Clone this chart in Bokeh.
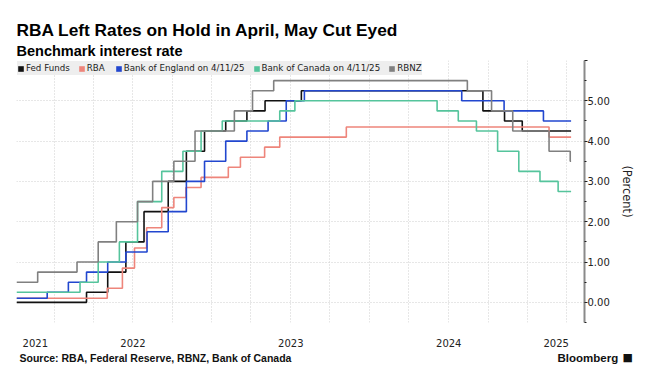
import pandas as pd
from bokeh.plotting import figure
from bokeh.layouts import column, row
from bokeh.models import (Range1d, FixedTicker, CustomJSTickFormatter, Legend,
                          LegendItem, Title, Label)
from bokeh.embed import file_html
from bokeh.resources import INLINE

# ---------------- data ----------------
title_text = "RBA Left Rates on Hold in April, May Cut Eyed"
subtitle_text = "Benchmark interest rate"
source_text = "Source: RBA, Federal Reserve, RBNZ, Bank of Canada"
brand_text = "Bloomberg"
y_label = "(Percent)"

x_start = "2021-10-06"
x_end = "2025-05-12"
last_date = "2025-04-11"

y_major_ticks = [0, 1, 2, 3, 4, 5, 6]
y_minor_ticks = [-0.5, 0.5, 1.5, 2.5, 3.5, 4.5, 5.5]

fed_dates = ["2021-10-06", "2022-03-17", "2022-05-05", "2022-06-16", "2022-07-28",
             "2022-09-22", "2022-11-03", "2022-12-15", "2023-02-02", "2023-03-23",
             "2023-05-04", "2023-07-27", "2024-09-19", "2024-11-08", "2024-12-19"]
fed_rates = [0.0, 0.25, 0.75, 1.5, 2.25, 3.0, 3.75, 4.25, 4.5, 4.75, 5.0, 5.25,
             4.75, 4.5, 4.25]

rba_dates = ["2021-10-06", "2022-05-04", "2022-06-08", "2022-07-06", "2022-08-03",
             "2022-09-07", "2022-10-05", "2022-11-02", "2022-12-07", "2023-02-08",
             "2023-03-08", "2023-05-03", "2023-06-07", "2023-11-08", "2025-02-19"]
rba_rates = [0.10, 0.35, 0.85, 1.35, 1.85, 2.35, 2.60, 2.85, 3.10, 3.35, 3.60,
             3.85, 4.10, 4.35, 4.10]

boe_dates = ["2021-10-06", "2021-12-16", "2022-02-03", "2022-03-17", "2022-05-05",
             "2022-06-16", "2022-08-04", "2022-09-22", "2022-11-03", "2022-12-15",
             "2023-02-02", "2023-03-23", "2023-05-11", "2023-06-22", "2023-08-03",
             "2024-08-01", "2024-11-07", "2025-02-06"]
boe_rates = [0.10, 0.25, 0.50, 0.75, 1.00, 1.25, 1.75, 2.25, 3.00, 3.50, 4.00,
             4.25, 4.50, 5.00, 5.25, 5.00, 4.75, 4.50]

boc_dates = ["2021-10-06", "2022-03-02", "2022-04-13", "2022-06-01", "2022-07-13",
             "2022-09-07", "2022-10-26", "2022-12-07", "2023-01-25", "2023-06-07",
             "2023-07-12", "2024-06-05", "2024-07-24", "2024-09-04", "2024-10-23",
             "2024-12-11", "2025-01-29", "2025-03-12"]
boc_rates = [0.25, 0.50, 1.00, 1.50, 2.50, 3.25, 3.75, 4.25, 4.50, 4.75, 5.00,
             4.75, 4.50, 4.25, 3.75, 3.25, 3.00, 2.75]

rbnz_dates = ["2021-10-06", "2021-11-24", "2022-02-23", "2022-04-13", "2022-05-25",
              "2022-07-13", "2022-08-17", "2022-10-05", "2022-11-23", "2023-02-22",
              "2023-04-05", "2023-05-24", "2024-08-14", "2024-10-09", "2024-11-27",
              "2025-02-19", "2025-04-09"]
rbnz_rates = [0.50, 0.75, 1.00, 1.50, 2.00, 2.50, 3.00, 3.50, 4.25, 4.75, 5.25,
              5.50, 5.25, 4.75, 4.25, 3.75, 3.50]

series_names = ["Fed Funds", "RBA", "Bank of England on 4/11/25",
                "Bank of Canada on 4/11/25", "RBNZ"]
series_dates = [fed_dates, rba_dates, boe_dates, boc_dates, rbnz_dates]
series_rates = [fed_rates, rba_rates, boe_rates, boc_rates, rbnz_rates]
series_colors = ["#111111", "#ee857b", "#2247cf", "#55c49c", "#808080"]

# ---------------- main figure ----------------
FONT = "DejaVu Sans"
TFONT = "Liberation Sans"
t0 = pd.Timestamp(x_start)
t1 = pd.Timestamp(x_end)
BORDER_L, BORDER_R, FRAME_W = 16, 74, 568
PAGE_W = BORDER_L + FRAME_W + BORDER_R

p = figure(frame_width=FRAME_W, frame_height=262,
           min_border_left=BORDER_L, min_border_right=BORDER_R, min_border_top=60,
           min_border_bottom=28,
           x_axis_type="datetime", y_axis_location="right",
           x_range=Range1d(t0, t1), y_range=Range1d(-0.5, 6.0),
           output_backend="svg", toolbar_location=None)
p.outline_line_color = None
p.background_fill_color = "white"
p.border_fill_color = "white"

# titles
p.title.text = title_text
p.title.align = "left"
p.title.text_font = TFONT
p.title.text_font_style = "bold"
p.title.text_font_size = "17.3px"
p.title.text_color = "#000000"
p.title.standoff = 0
p.add_layout(Title(text=subtitle_text, align="left", text_font=TFONT,
                   text_font_style="bold", text_font_size="14.5px",
                   text_color="#000000", standoff=3), "above")

# grids
quarters = pd.date_range(x_start, x_end, freq="QS")
p.xgrid.ticker = FixedTicker(ticks=[q.value / 1e6 for q in quarters])
for g in (p.xgrid, p.ygrid):
    g.grid_line_color = "#cfcfcf"
    g.grid_line_dash = "1 2"
    g.grid_line_width = 1

# x axis: year labels centred in the visible part of each year
year_mids = []
for yr in range(t0.year, t1.year + 1):
    lo = max(t0, pd.Timestamp(yr, 1, 1))
    hi = min(t1, pd.Timestamp(yr + 1, 1, 1))
    year_mids.append((lo.value + (hi.value - lo.value) / 2) / 1e6)
p.xaxis.ticker = FixedTicker(ticks=year_mids)
p.xaxis.formatter = CustomJSTickFormatter(
    code="return String(new Date(tick).getUTCFullYear());")
p.xaxis.axis_line_color = None
p.xaxis.major_tick_line_color = None
p.xaxis.minor_tick_line_color = None
p.xaxis.major_tick_out = 0
p.xaxis.major_label_standoff = 16
p.xaxis.major_label_text_font = FONT
p.xaxis.major_label_text_font_size = "10px"
p.xaxis.major_label_text_color = "#222222"

# y axis on the right
p.yaxis.ticker = FixedTicker(ticks=y_major_ticks, minor_ticks=y_minor_ticks)
p.yaxis.formatter = CustomJSTickFormatter(
    code="return tick > 5.5 ? '' : tick.toFixed(2);")
p.yaxis.axis_line_color = "#8a8a8a"
p.yaxis.axis_line_width = 2
p.yaxis.major_tick_line_color = "#222222"
p.yaxis.minor_tick_line_color = "#222222"
p.yaxis.major_tick_in = 0
p.yaxis.major_tick_out = 3
p.yaxis.minor_tick_in = 0
p.yaxis.minor_tick_out = 2
p.yaxis.major_label_standoff = 0
p.yaxis.major_label_text_font = FONT
p.yaxis.major_label_text_font_size = "10px"
p.yaxis.major_label_text_color = "#222222"
p.yaxis.axis_label = y_label
p.yaxis.axis_label_text_font = FONT
p.yaxis.axis_label_text_font_size = "11.5px"
p.yaxis.axis_label_text_font_style = "normal"
p.yaxis.axis_label_text_color = "#222222"
p.yaxis.axis_label_standoff = 7

# step lines + legend swatches
items = []
for name, d, r, c in zip(series_names, series_dates, series_rates, series_colors):
    xs = [pd.Timestamp(v) for v in d] + [pd.Timestamp(last_date)]
    ys = list(r) + [r[-1]]
    p.step(xs, ys, mode="after", line_color=c, line_width=1.6)
    # zero-area swatch used only to draw the legend square
    sw = p.quad(left=[xs[0]], right=[xs[0]], top=[ys[0]], bottom=[ys[0]],
                fill_color=c, line_color=c, line_alpha=0)
    items.append(LegendItem(label=name, renderers=[sw]))

legend = Legend(items=items, orientation="horizontal", location="top_left",
                margin=1, padding=6, spacing=8, label_standoff=2,
                glyph_width=7, glyph_height=7, label_height=14,
                label_text_font=FONT, label_text_font_size="8.7px",
                label_text_color="#222222",
                background_fill_color="#ececec", background_fill_alpha=0.9,
                border_line_color=None)
p.add_layout(legend)

# ---------------- footer strip (source + brand on one line) ----------------
FOOT_H = 34
f = figure(frame_width=PAGE_W, frame_height=FOOT_H, min_border=0,
           x_range=Range1d(0, PAGE_W), y_range=Range1d(FOOT_H, 0),
           x_axis_location=None, y_axis_location=None,
           output_backend="svg", toolbar_location=None)
f.outline_line_color = None
f.grid.visible = False
f.background_fill_color = "white"
f.border_fill_color = "white"
f.add_layout(Label(x=19, y=7, text=source_text, text_font=TFONT,
                   text_font_style="bold", text_font_size="10.5px",
                   text_color="#111111", text_baseline="middle"))
f.add_layout(Label(x=557, y=7, text=brand_text, text_font=TFONT,
                   text_font_style="bold", text_font_size="11.5px",
                   text_color="#111111", text_baseline="middle"))
f.add_layout(Label(x=622, y=7, text="\u25A0", text_font=FONT,
                   text_font_size="11px", text_color="#111111",
                   text_baseline="middle"))

layout = column(p, row(f), spacing=0)
open("out.html", "w").write(file_html(layout, INLINE))
